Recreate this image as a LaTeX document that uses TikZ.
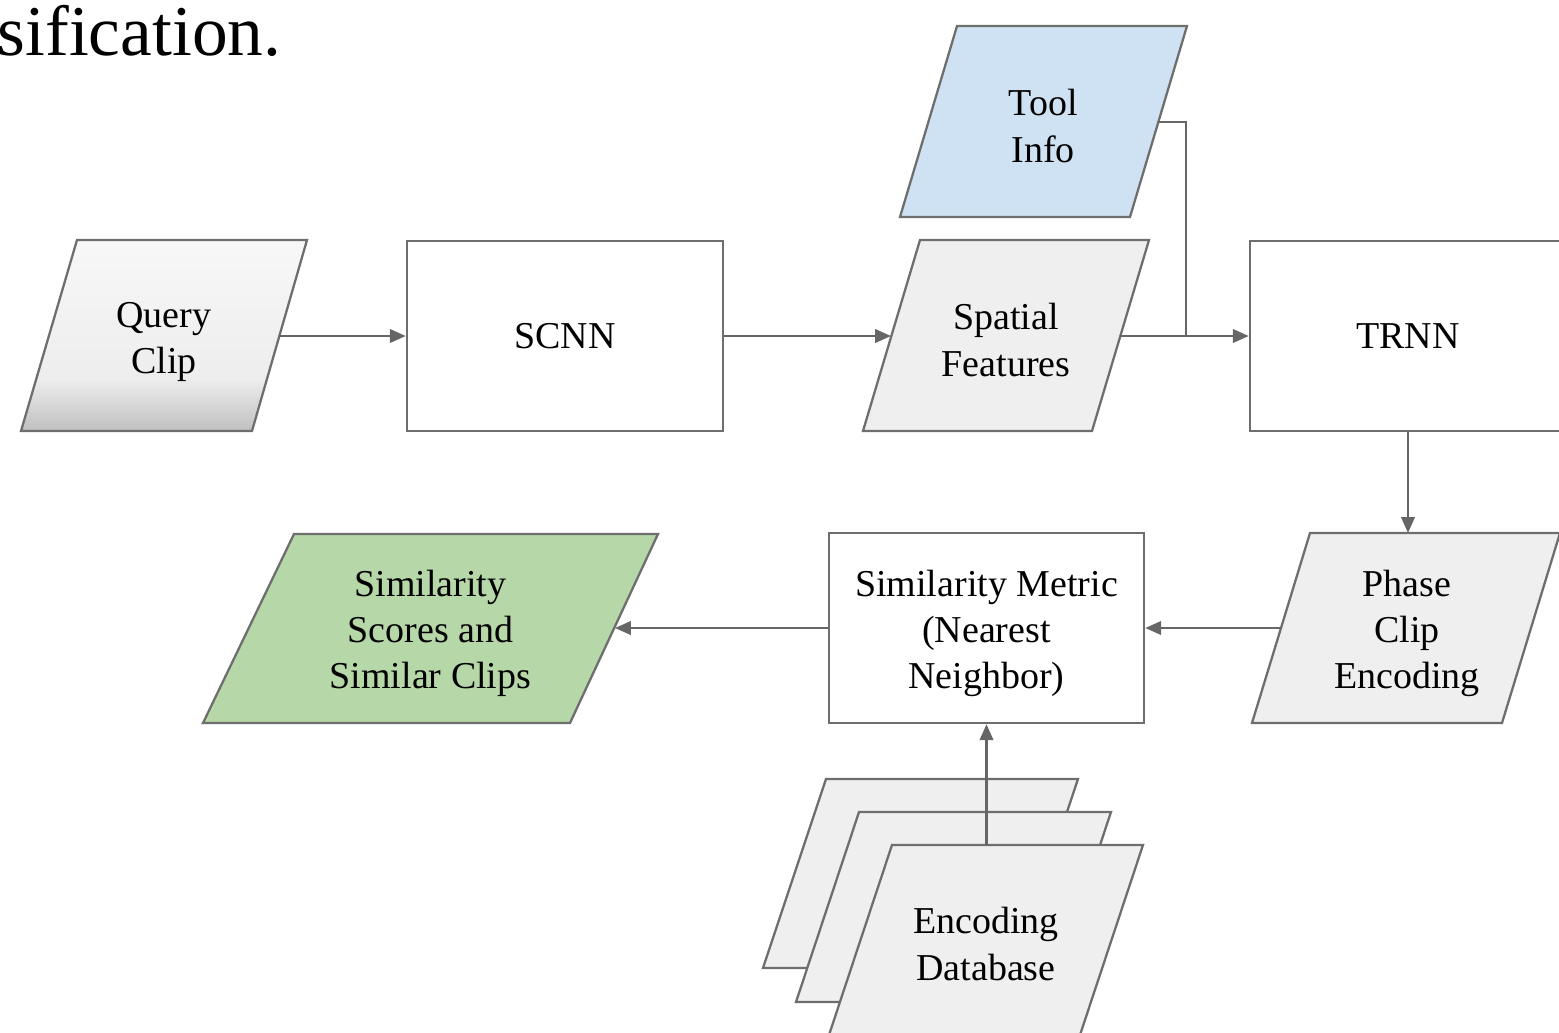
\documentclass[tikz,border=0pt]{standalone}
\usepackage{fontspec}
\setmainfont{Liberation Serif}
\usetikzlibrary{arrows.meta}
\definecolor{edgegray}{HTML}{6E6E6E}
\definecolor{arrgray}{HTML}{666666}
\definecolor{pale}{HTML}{EFEFEF}
\definecolor{toolblue}{HTML}{CFE2F3}
\definecolor{resgreen}{HTML}{B6D7A8}
\definecolor{qtop}{HTML}{F8F8F8}
\definecolor{qmid}{HTML}{EDEDED}
\definecolor{qbot}{HTML}{BBBBBB}
\begin{document}
\begin{tikzpicture}[x=0.01cm,y=-0.01cm,
  shapeline/.style={draw=edgegray, line width=0.65pt, line join=miter},
  conn/.style={draw=arrgray, line width=0.7pt, -{Triangle[length=4.5pt,width=3.8pt]}},
  plainline/.style={draw=arrgray, line width=0.7pt},
  lbl/.style={align=center, font=\fontsize{10.8}{13.1}\selectfont, inner sep=0pt},
  procbox/.style={lbl, draw=edgegray, line width=0.65pt, fill=white, minimum height=1.9cm, inner sep=0pt}]
\useasboundingbox (0,0) rectangle (1559,1032);

% cut-off caption text at top left
\node[anchor=base west, inner sep=0pt, font=\fontsize{20.3}{24}\selectfont] (cap) at (-3,55) {sification.};

% Query Clip (gradient parallelogram)
\begin{scope}
  \clip (21,431) -- (77,240) -- (307,240) -- (252,431) -- cycle;
  \shade[top color=qtop, bottom color=qmid] (0,235) rectangle (320,380);
  \shade[top color=qmid, bottom color=qbot] (0,379) rectangle (320,436);
\end{scope}
\draw[shapeline] (21,431) -- (77,240) -- (307,240) -- (252,431) -- cycle;
\node[lbl] (qc) at (164,342) {Query\\Clip};
\coordinate (qcR) at (280,336);

% SCNN
\node[procbox, minimum width=3.16cm] (scnn) at (565,336) {SCNN};

% Spatial Features
\filldraw[shapeline, fill=pale] (863,431) -- (920,240) -- (1149,240) -- (1092,431) -- cycle;
\node[lbl] (sf) at (1006,340) {Spatial\\Features};
\coordinate (sfL) at (891,336);
\coordinate (sfR) at (1120,336);

% Tool Info
\filldraw[shapeline, fill=toolblue] (900,217) -- (957,26) -- (1187,26) -- (1130,217) -- cycle;
\node[lbl] (ti) at (1043,126) {Tool\\Info};
\coordinate (tiR) at (1158,122);
\coordinate (jn) at (1186,336);

% TRNN
\node[procbox, minimum width=3.16cm] (trnn) at (1408,336) {TRNN};

% Phase Clip Encoding
\filldraw[shapeline, fill=pale] (1252,723) -- (1310,533) -- (1560,533) -- (1502,723) -- cycle;
\node[lbl] (pce) at (1407,633) {Phase\\Clip\\Encoding};
\coordinate (pceL) at (1281,628);
\coordinate (pceT) at (1408,533);

% Similarity Metric
\node[procbox, minimum width=3.15cm] (sm) at (986.5,628) {};
\node[lbl] (smt) at (986.5,633) {Similarity Metric\\(Nearest\\Neighbor)};

% Similarity Scores and Similar Clips
\filldraw[shapeline, fill=resgreen] (203,723) -- (294,534) -- (658,534) -- (570,723) -- cycle;
\node[lbl] (ss) at (430.5,633) {Similarity\\Scores and\\Similar Clips};
\coordinate (ssR) at (615,628);

% Encoding Database (stack)
\filldraw[shapeline, fill=pale] (763,968) -- (826,779) -- (1078,779) -- (1015,968) -- cycle;
\filldraw[shapeline, fill=pale] (796,1002) -- (859,812) -- (1111,812) -- (1048,1002) -- cycle;
\filldraw[shapeline, fill=pale] (829,1035) -- (892,845) -- (1143,845) -- (1080,1035) -- cycle;
\node[lbl] (db) at (986,944) {Encoding\\Database};
\coordinate (dbT) at (986.5,845);

% connectors
\draw[conn] (qcR) -- (scnn.west);
\draw[conn] (scnn.east) -- (sfL);
\draw[conn] (sfR) -- (trnn.west);
\draw[plainline] (tiR) -| (jn);
\draw[conn] (trnn.south) -- (pceT);
\draw[conn] (pceL) -- (sm.east);
\draw[conn] (sm.west) -- (ssR);
\draw[conn] (dbT) -- (sm.south);
\end{tikzpicture}
\end{document}
